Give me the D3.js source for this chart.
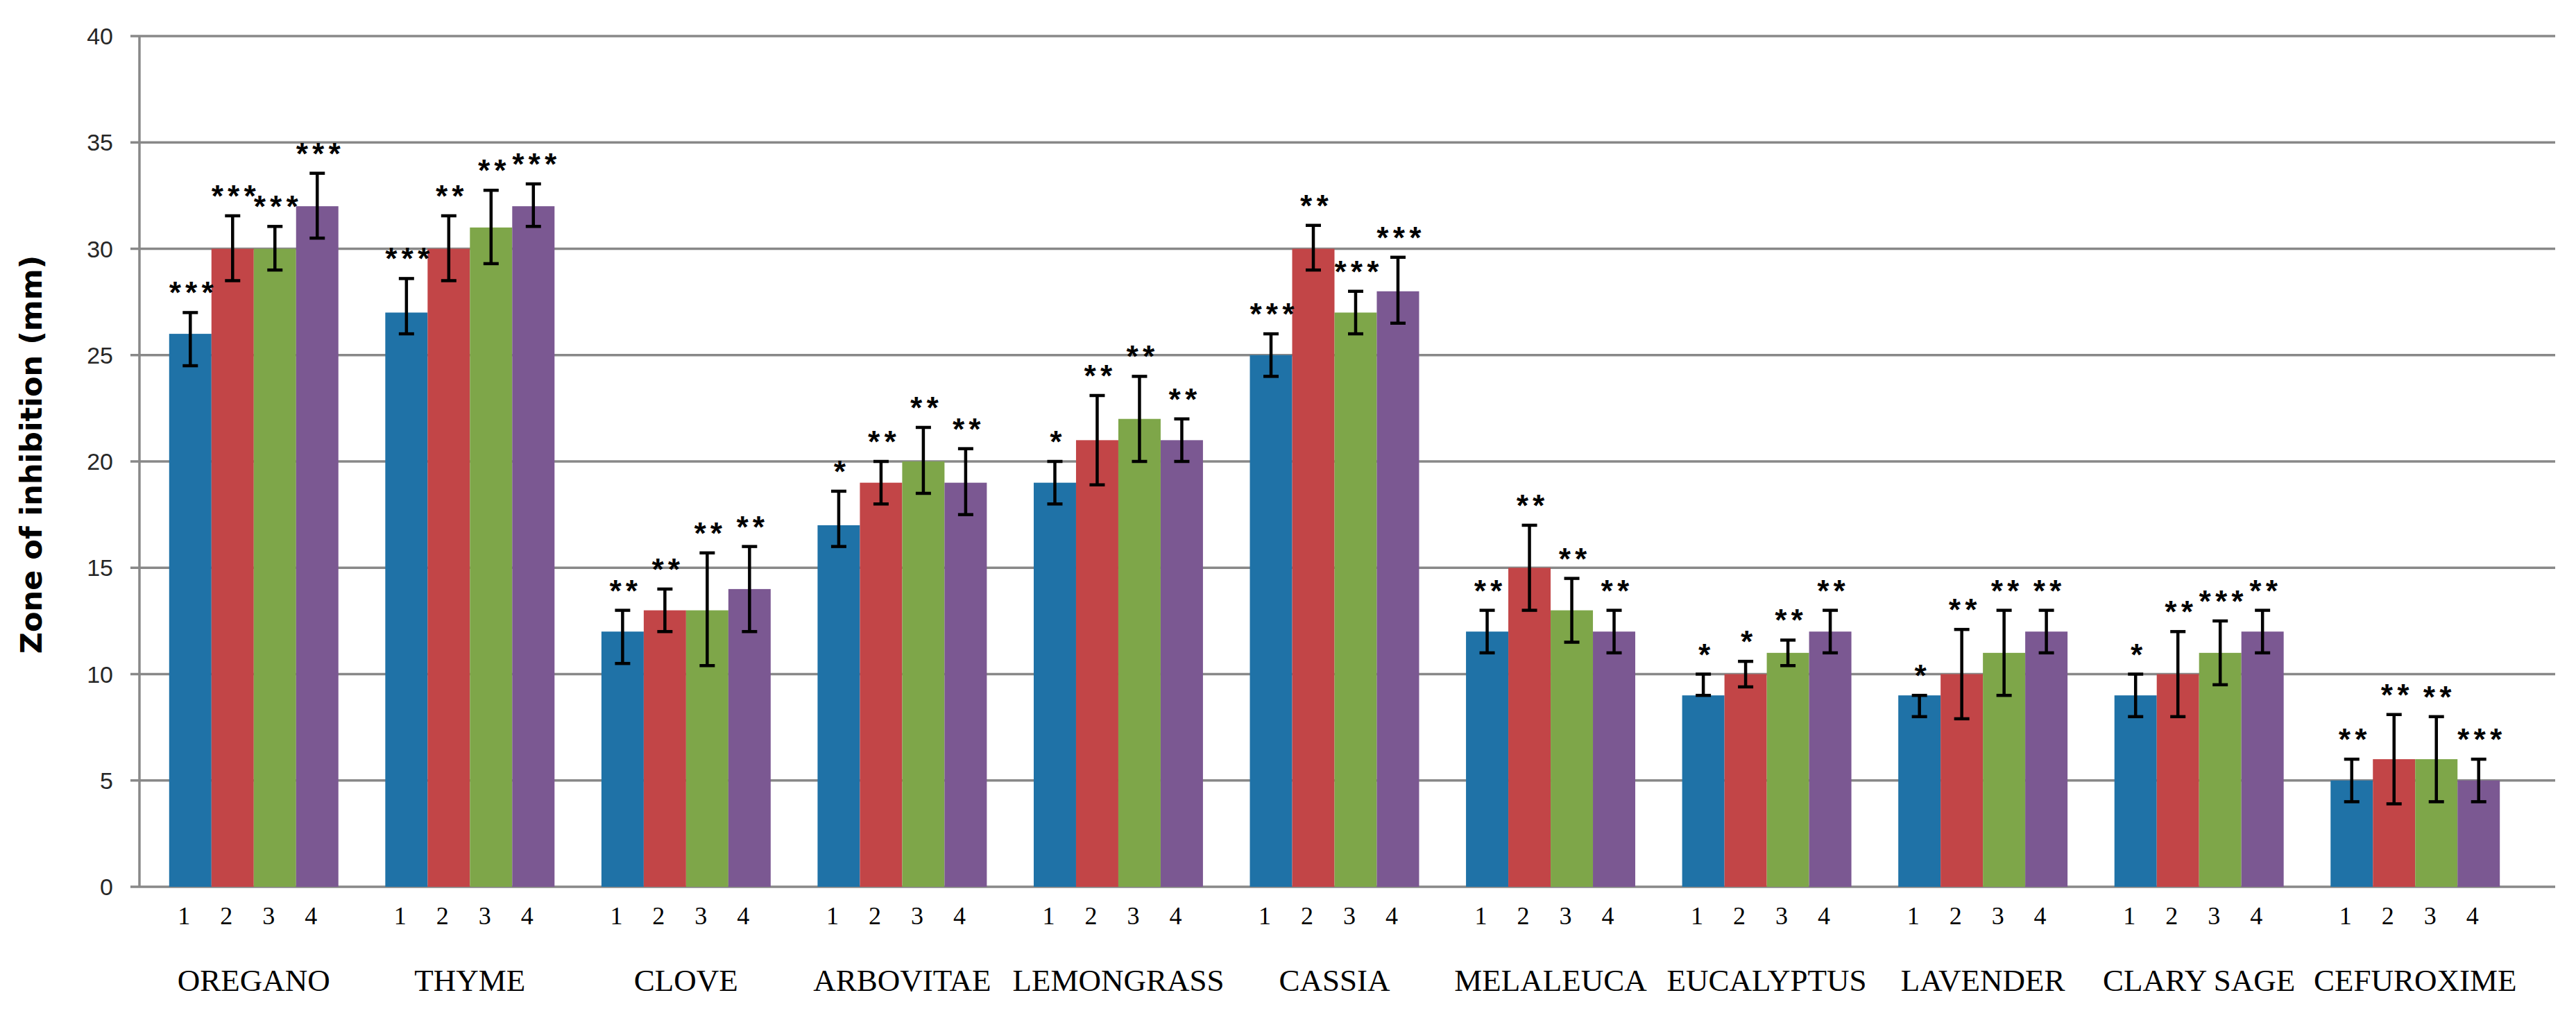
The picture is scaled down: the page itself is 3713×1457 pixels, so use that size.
<!DOCTYPE html>
<html>
<head>
<meta charset="utf-8">
<script src="https://cdn.jsdelivr.net/npm/d3@7/dist/d3.min.js"></script>
<style>
  html, body { margin: 0; padding: 0; background: #ffffff; }
  svg { display: block; }
</style>
</head>
<body>
<svg id="chart" width="3713" height="1457"></svg>
<script>
// ---------------- DATA ----------------
const categories = ["OREGANO","THYME","CLOVE","ARBOVITAE","LEMONGRASS","CASSIA","MELALEUCA","EUCALYPTUS","LAVENDER","CLARY SAGE","CEFUROXIME"];
const seriesNames = ["1","2","3","4"];

const series1 = [26, 27, 12, 17, 19, 25, 12, 9, 9, 9, 5];
const series2 = [30, 30, 13, 19, 21, 30, 15, 10, 10, 10, 6];
const series3 = [30, 31, 13, 20, 22, 27, 13, 11, 11, 11, 6];
const series4 = [32, 32, 14, 19, 21, 28, 12, 12, 12, 12, 5];

// error bar lower / upper ends
const low1  = [24.5, 26.0, 10.5, 16.0, 18.0, 24.0, 11.0, 9.0, 8.0, 8.0, 4.0];
const high1 = [27.0, 28.6, 13.0, 18.6, 20.0, 26.0, 13.0, 10.0, 9.0, 10.0, 6.0];
const low2  = [28.5, 28.5, 12.0, 18.0, 18.9, 29.0, 13.0, 9.4, 7.9, 8.0, 3.9];
const high2 = [31.55, 31.55, 14.0, 20.0, 23.1, 31.1, 17.0, 10.6, 12.1, 12.0, 8.1];
const low3  = [29.0, 29.3, 10.4, 18.5, 20.0, 26.0, 11.5, 10.4, 9.0, 9.5, 4.0];
const high3 = [31.05, 32.75, 15.7, 21.6, 24.0, 28.0, 14.5, 11.6, 13.0, 12.5, 8.0];
const low4  = [30.5, 31.05, 12.0, 17.5, 20.0, 26.5, 11.0, 11.0, 11.0, 11.0, 4.0];
const high4 = [33.55, 33.05, 16.0, 20.6, 22.0, 29.6, 13.0, 13.0, 13.0, 13.0, 6.0];

// significance marks
const stars1 = ["***","***","**","*","*","***","**","*","*","*","**"];
const stars2 = ["***","**","**","**","**","**","**","*","**","**","**"];
const stars3 = ["***","**","**","**","**","***","**","**","**","***","**"];
const stars4 = ["***","***","**","**","**","***","**","**","**","**","***"];

const yTicks = [0, 5, 10, 15, 20, 25, 30, 35, 40];
const yTitle = "Zone of inhibition (mm)";
const seriesColors = ["#1f72a7", "#c24547", "#7ea649", "#7b5892"];

// -------------- BUILD ---------------
const valueSets = [series1, series2, series3, series4];
const lowSets = [low1, low2, low3, low4];
const highSets = [high1, high2, high3, high4];
const starSets = [stars1, stars2, stars3, stars4];

const rows = [];
categories.forEach((c, i) => {
  seriesNames.forEach((s, j) => {
    rows.push({cat: c, ser: s, j: j, value: valueSets[j][i], low: lowSets[j][i], high: highSets[j][i], stars: starSets[j][i]});
  });
});

const svg = d3.select("#chart");
const axisLeft = 201, gridRight = 3683;
const y = d3.scaleLinear().domain([0, 40]).range([1278, 52]);
const x0 = d3.scaleBand().domain(categories).range([210, 3637]).paddingInner(0.217).paddingOuter(0.1085);
const x1 = d3.scaleBand().domain(seriesNames).range([0, x0.bandwidth()]);
const color = d3.scaleOrdinal().domain(seriesNames).range(seriesColors);

// gridlines
svg.append("g").selectAll("line").data(yTicks).join("line")
  .attr("x1", axisLeft - 13).attr("x2", gridRight)
  .attr("y1", d => y(d)).attr("y2", d => y(d))
  .attr("stroke", "#888888").attr("stroke-width", 3.5);

// vertical axis
svg.append("line").attr("x1", axisLeft).attr("x2", axisLeft)
  .attr("y1", y(40)).attr("y2", y(0))
  .attr("stroke", "#888888").attr("stroke-width", 3.5);

// y tick labels
svg.append("g").selectAll("text").data(yTicks).join("text")
  .attr("x", 163).attr("y", d => y(d)).attr("dy", "0.36em")
  .attr("text-anchor", "end")
  .attr("font-family", "'Liberation Sans', Arial, sans-serif")
  .attr("font-size", 34).attr("fill", "#262626")
  .text(d => d);

// y title
svg.append("text")
  .attr("transform", `translate(60, ${ (y(40) + y(0)) / 2 - 10 }) rotate(-90)`)
  .attr("text-anchor", "middle")
  .attr("font-family", "'DejaVu Sans', Verdana, sans-serif")
  .attr("font-weight", "bold").attr("font-size", 43).attr("fill", "#000")
  .text(yTitle);

// bars
svg.append("g").selectAll("rect").data(rows).join("rect")
  .attr("x", d => x0(d.cat) + x1(d.ser))
  .attr("width", x1.bandwidth())
  .attr("y", d => y(d.value))
  .attr("height", d => y(0) - y(d.value))
  .attr("fill", d => color(d.ser));

// error bars
const cx = d => x0(d.cat) + x1(d.ser) + x1.bandwidth() / 2;
const eb = svg.append("g").attr("stroke", "#000").attr("stroke-width", 4.5);
eb.selectAll("line.v").data(rows).join("line").attr("class", "v")
  .attr("x1", cx).attr("x2", cx)
  .attr("y1", d => y(d.low)).attr("y2", d => y(d.high));
eb.selectAll("line.t").data(rows).join("line").attr("class", "t")
  .attr("x1", d => cx(d) - 11).attr("x2", d => cx(d) + 11)
  .attr("y1", d => y(d.high)).attr("y2", d => y(d.high));
eb.selectAll("line.b").data(rows).join("line").attr("class", "b")
  .attr("x1", d => cx(d) - 11).attr("x2", d => cx(d) + 11)
  .attr("y1", d => y(d.low)).attr("y2", d => y(d.low));

// stars
svg.append("g").selectAll("text").data(rows).join("text")
  .attr("x", cx).attr("y", d => y(d.high) - 12)
  .attr("text-anchor", "middle")
  .attr("font-family", "'Liberation Mono', 'Courier New', monospace")
  .attr("font-weight", "bold").attr("font-size", 44).attr("fill", "#000")
  .attr("letter-spacing", -3)
  .text(d => d.stars);

// series numbers under bars
svg.append("g").selectAll("text").data(rows).join("text")
  .attr("x", d => cx(d) - 9).attr("y", 1332)
  .attr("text-anchor", "middle")
  .attr("font-family", "'Liberation Serif', 'Times New Roman', serif")
  .attr("font-size", 36).attr("fill", "#000")
  .text(d => d.ser);

// category labels
svg.append("g").selectAll("text").data(categories).join("text")
  .attr("x", d => x0(d) + x0.bandwidth() / 2).attr("y", 1428)
  .attr("text-anchor", "middle")
  .attr("font-family", "'Liberation Serif', 'Times New Roman', serif")
  .attr("font-size", 45).attr("fill", "#000")
  .text(d => d);
</script>
</body>
</html>
